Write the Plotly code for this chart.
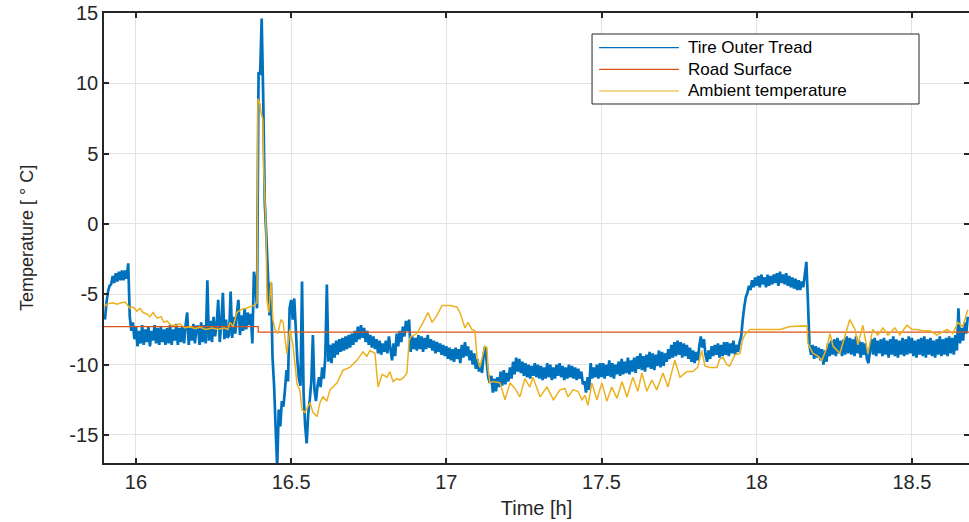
import plotly.graph_objects as go

# ---------------- data ----------------
# Tire outer tread temperature, sampled every 0.005 h from 15.900 h
tire_start = 15.900
tire_step = 0.005
tire_temp = [
    -6.8, -5.6, -4.8, -4.4, -4.3, -3.7, -4.2, -3.5, -4.1, -3.4, -4.0, -3.3, -4.0, -3.3, -3.9, -2.8, -6.6, -7.6, -7.0, -8.2,
    -7.3, -8.7, -7.6, -8.5, -7.2, -8.6, -7.5, -8.4, -7.3, -8.7, -7.6, -8.3, -7.2, -8.5, -7.4, -8.6, -7.3, -8.4, -7.5, -8.6,
    -7.4, -8.5, -7.2, -8.6, -7.5, -8.3, -7.1, -8.6, -7.4, -8.4, -7.3, -8.5, -7.2, -6.3, -8.6, -7.4, -8.3, -7.1, -8.5, -7.3,
    -7.3, -8.6, -7.0, -8.4, -7.2, -8.5, -4.0, -8.3, -6.9, -8.4, -6.6, -8.0, -7.1, -5.4, -8.4, -7.0, -4.9, -8.2, -6.8, -8.1,
    -7.9, -4.8, -8.1, -6.6, -7.8, -6.4, -5.4, -7.9, -6.5, -7.6, -6.0, -7.5, -6.3, -7.2, -6.4, -8.5, -3.4, -4.3, -6.0, 10.8,
    10.6, 14.6, 9.0, 1.5, -0.8, -3.5, -6.5, -4.2, -9.5, -11.5, -14.5, -17.3, -13.2, -14.4, -12.6, -13.0, -11.8, -10.4, -11.2, -6.0,
    -5.4, -6.8, -5.3, -7.5, -9.7, -11.0, -11.5, -4.1, -12.0, -14.3, -15.6, -13.5, -12.5, -11.2, -7.9, -11.8, -12.6, -11.5, -10.9, -11.6,
    -10.2, -11.0, -9.5, -4.3, -9.8, -8.6, -9.9, -8.5, -9.5, -8.3, -9.3, -8.2, -9.1, -8.1, -9.0, -8.0, -8.9, -7.9, -8.8, -7.8,
    -8.6, -7.6, -8.4, -7.3, -8.2, -7.2, -8.1, -7.4, -8.4, -7.6, -8.6, -7.9, -8.8, -8.0, -8.9, -8.2, -9.2, -8.3, -9.3, -8.5,
    -9.1, -8.3, -9.2, -8.0, -8.9, -9.7, -8.5, -9.4, -7.8, -8.7, -7.6, -8.4, -7.3, -8.0, -6.9, -7.6, -6.8, -9.1, -8.0, -8.9,
    -8.1, -9.0, -7.9, -8.9, -8.0, -9.1, -8.1, -8.9, -7.9, -8.8, -8.2, -9.0, -8.3, -9.2, -8.4, -9.1, -8.5, -9.3, -8.6, -9.4,
    -8.7, -9.6, -8.8, -9.7, -8.9, -9.8, -8.8, -9.6, -8.9, -9.9, -8.6, -9.5, -8.4, -9.4, -8.7, -9.7, -9.0, -10.0, -9.2, -10.3,
    -9.6, -10.5, -9.9, -10.6, -9.3, -8.7, -9.8, -10.9, -11.3, -10.8, -12.0, -11.0, -11.9, -10.9, -11.6, -10.5, -11.5, -10.4, -11.4, -10.6,
    -11.2, -10.2, -11.0, -9.8, -10.7, -9.5, -10.5, -9.6, -10.6, -9.8, -10.8, -9.9, -10.9, -10.0, -11.0, -10.1, -10.8, -9.9, -10.9, -10.0,
    -11.0, -10.1, -11.1, -10.2, -11.0, -9.9, -10.9, -10.0, -11.1, -10.2, -11.0, -10.0, -10.8, -9.9, -10.9, -10.1, -11.1, -10.2, -11.0, -10.0,
    -10.9, -10.1, -11.0, -10.2, -11.1, -10.3, -11.0, -10.5, -11.4, -11.2, -12.0, -10.9, -11.8, -9.9, -11.0, -10.2, -10.9, -10.0, -11.0, -9.9,
    -10.9, -9.9, -11.0, -10.0, -10.8, -9.7, -10.9, -9.9, -11.0, -10.0, -10.7, -9.8, -10.8, -9.6, -10.7, -9.8, -10.6, -9.5, -10.7, -9.7,
    -10.5, -9.5, -10.6, -9.4, -10.3, -9.2, -10.4, -9.4, -10.5, -9.3, -10.2, -9.1, -10.3, -9.2, -10.4, -9.3, -10.1, -9.0, -10.2, -9.1,
    -10.1, -9.2, -9.8, -8.9, -9.6, -8.6, -9.5, -8.4, -9.4, -8.3, -9.3, -8.4, -9.5, -8.5, -9.4, -8.6, -9.6, -8.8, -9.8, -9.0,
    -9.9, -9.1, -9.7, -8.7, -8.0, -8.8, -8.2, -9.3, -9.8, -9.0, -9.6, -8.7, -9.4, -8.6, -9.3, -8.5, -9.5, -8.6, -9.4, -8.4,
    -9.3, -8.4, -9.4, -8.5, -9.2, -8.3, -9.3, -8.6, -9.1, -8.4, -8.0, -6.8, -5.9, -5.2, -4.9, -4.4, -4.7, -4.0, -4.5, -3.8,
    -4.4, -3.7, -4.5, -3.6, -4.3, -3.8, -4.5, -3.6, -4.4, -3.7, -4.3, -3.6, -4.2, -3.5, -4.4, -3.4, -4.2, -3.6, -4.3, -3.5,
    -4.4, -3.7, -4.5, -3.8, -4.6, -3.9, -4.7, -4.0, -4.7, -4.1, -4.5, -3.6, -2.7, -5.5, -8.6, -9.3, -8.6, -9.6, -8.7, -9.5,
    -8.8, -9.7, -8.9, -10.0, -9.0, -9.8, -8.5, -9.4, -8.3, -9.3, -8.2, -9.4, -8.1, -9.2, -8.3, -9.4, -8.2, -9.3, -8.0, -9.2,
    -8.1, -9.3, -8.2, -9.4, -8.0, -9.2, -8.3, -9.5, -8.4, -9.3, -8.5, -9.6, -9.9, -9.0, -8.2, -9.3, -8.1, -9.4, -8.3, -9.2,
    -8.2, -9.4, -8.1, -9.3, -8.3, -9.5, -8.2, -9.3, -8.0, -9.4, -8.2, -9.5, -8.3, -9.3, -8.1, -9.4, -8.2, -9.3, -8.0, -9.2,
    -8.1, -9.4, -8.3, -9.5, -8.2, -9.3, -8.1, -9.4, -8.0, -9.5, -8.2, -9.3, -8.1, -9.4, -8.3, -9.5, -8.2, -9.3, -8.0, -9.4,
    -8.2, -9.3, -8.1, -9.4, -8.0, -9.2, -8.1, -9.3, -7.9, -9.0, -6.0, -8.5, -7.4, -8.3, -7.0, -7.8, -6.6,
]
tire_time = [round(tire_start + tire_step * i, 3) for i in range(len(tire_temp))]

# Road surface temperature (step change)
road_time = [15.897, 16.394, 18.684]
road_temp = [-7.3, -7.7, -7.7]

# Ambient temperature
amb_time = [
    15.897, 15.907, 15.923, 15.939, 15.952, 15.965, 15.974, 15.981, 15.990, 16.003,
    16.013, 16.023, 16.035, 16.045, 16.055, 16.068, 16.081, 16.090, 16.100, 16.113,
    16.132, 16.142, 16.158, 16.174, 16.190, 16.206, 16.226, 16.245, 16.264, 16.284,
    16.296, 16.303, 16.313, 16.325, 16.338, 16.354, 16.367, 16.380, 16.390, 16.393,
    16.400, 16.403, 16.409, 16.412, 16.419, 16.422, 16.428, 16.435, 16.441, 16.448,
    16.457, 16.467, 16.474, 16.486, 16.496, 16.506, 16.519, 16.528, 16.535, 16.544,
    16.561, 16.570, 16.583, 16.593, 16.602, 16.615, 16.625, 16.648, 16.667, 16.689,
    16.712, 16.731, 16.744, 16.754, 16.770, 16.780, 16.793, 16.809, 16.818, 16.828,
    16.841, 16.850, 16.863, 16.873, 16.880, 16.886, 16.905, 16.925, 16.941, 16.954,
    16.970, 16.986, 17.012, 17.034, 17.044, 17.060, 17.070, 17.082, 17.092, 17.099,
    17.108, 17.124, 17.131, 17.134, 17.140, 17.150, 17.173, 17.189, 17.205, 17.221,
    17.237, 17.253, 17.269, 17.279, 17.302, 17.324, 17.345, 17.366, 17.382, 17.392,
    17.408, 17.424, 17.437, 17.447, 17.456, 17.469, 17.485, 17.501, 17.517, 17.533,
    17.550, 17.566, 17.582, 17.601, 17.617, 17.630, 17.646, 17.662, 17.678, 17.698,
    17.714, 17.736, 17.753, 17.775, 17.794, 17.810, 17.823, 17.833, 17.849, 17.872,
    17.881, 17.891, 17.904, 17.913, 17.930, 17.946, 17.955, 17.964, 17.978, 18.020,
    18.075, 18.107, 18.162, 18.165, 18.181, 18.197, 18.210, 18.226, 18.236, 18.246,
    18.268, 18.300, 18.317, 18.326, 18.342, 18.358, 18.374, 18.390, 18.407, 18.423,
    18.445, 18.461, 18.484, 18.500, 18.516, 18.535, 18.558, 18.581, 18.613, 18.632,
    18.648, 18.664, 18.680,
]
amb_temp = [
    -5.9, -5.7, -5.6, -5.7, -5.6, -5.55, -5.8, -6.0, -5.9, -6.2,
    -6.0, -6.3, -6.4, -6.6, -6.3, -6.7, -6.6, -7.0, -6.9, -7.2,
    -7.2, -7.1, -7.4, -7.3, -7.45, -7.35, -7.5, -7.4, -7.5, -7.4,
    -7.5, -7.0, -7.3, -6.3, -6.1, -6.0, -5.9, -5.8, -5.6, 8.9,
    8.5, 7.9, 7.4, 3.6, -0.2, -5.4, -6.3, -4.1, -6.8, -7.5,
    -7.8, -6.8, -7.0, -9.2, -7.5, -8.6, -11.4, -11.8, -13.2, -13.4,
    -12.7, -13.4, -13.7, -12.7, -12.3, -12.6, -11.8, -11.3, -10.4, -10.2,
    -9.7, -9.1, -9.4, -9.0, -9.2, -11.6, -10.7, -10.9, -10.5, -11.2,
    -11.0, -11.1, -10.9, -10.6, -8.3, -8.0, -7.8, -7.0, -6.3, -7.0,
    -6.5, -5.8, -5.8, -5.9, -6.3, -7.4, -7.0, -7.5, -7.6, -9.5,
    -10.2, -8.7, -8.8, -10.2, -11.3, -11.2, -11.3, -12.5, -11.3, -11.7,
    -12.3, -11.0, -11.6, -10.9, -12.3, -11.6, -12.5, -11.8, -11.7, -12.3,
    -11.8, -11.9, -12.5, -12.2, -12.9, -11.3, -12.5, -11.3, -12.6, -11.6,
    -12.4, -11.2, -12.3, -10.9, -11.9, -10.6, -11.9, -11.1, -11.8, -10.6,
    -11.6, -9.7, -10.9, -10.5, -10.5, -10.2, -9.0, -10.1, -10.2, -10.2,
    -9.6, -9.5, -10.0, -10.1, -9.3, -9.2, -8.2, -7.8, -7.5, -7.5,
    -7.5, -7.3, -7.25, -8.5, -9.2, -9.4, -9.7, -8.8, -7.8, -8.7,
    -9.2, -6.8, -7.5, -8.6, -7.2, -9.2, -7.5, -7.9, -7.4, -7.9,
    -7.4, -7.9, -7.2, -7.5, -7.5, -7.6, -7.6, -7.9, -7.5, -7.8,
    -7.0, -7.3, -6.1,
]

series_names = ["Tire Outer Tread", "Road Surface", "Ambient temperature"]
series_colors = ["#0072BD", "#D95319", "#EDB120"]

x_range = [15.897, 18.684]
y_range = [-17, 15]
x_ticks = [16, 16.5, 17, 17.5, 18, 18.5]
x_tick_labels = ["16", "16.5", "17", "17.5", "18", "18.5"]
y_ticks = [-15, -10, -5, 0, 5, 10, 15]
y_tick_labels = ["-15", "-10", "-5", "0", "5", "10", "15"]

FONT = "Liberation Sans, Arial, Helvetica, sans-serif"
AXIS_COLOR = "#262626"

fig = go.Figure()
fig.add_trace(go.Scatter(x=tire_time, y=tire_temp, mode="lines", name=series_names[0],
                         line=dict(color=series_colors[0], width=2.7, simplify=False)))
fig.add_trace(go.Scatter(x=road_time, y=road_temp, mode="lines", name=series_names[1],
                         line=dict(color=series_colors[1], width=1.3, shape="hv")))
fig.add_trace(go.Scatter(x=amb_time, y=amb_temp, mode="lines", name=series_names[2],
                         line=dict(color=series_colors[2], width=1.5, simplify=False)))

axis_common = dict(
    showline=True, linecolor=AXIS_COLOR, linewidth=1.5, mirror="ticks",
    ticks="inside", ticklen=5, tickwidth=1.5, tickcolor=AXIS_COLOR,
    showgrid=True, gridcolor="#e3e3e3", gridwidth=1, zeroline=False,
    tickfont=dict(family=FONT, size=20, color=AXIS_COLOR),
)

fig.update_xaxes(range=x_range, tickvals=x_ticks, ticktext=x_tick_labels,
                 title=dict(text="Time [h]", font=dict(family=FONT, size=20, color=AXIS_COLOR), standoff=9),
                 automargin=False, **axis_common)
fig.update_yaxes(range=y_range, tickvals=y_ticks, ticktext=y_tick_labels,
                 title=dict(text="Temperature [ ° C]", font=dict(family=FONT, size=18, color=AXIS_COLOR), standoff=31),
                 automargin=False, **axis_common)

# Legend box drawn in paper coordinates (MATLAB-style: thin sample lines, framed box)
legend_box = dict(x0=0.5642, x1=0.9422, y0=0.7978, y1=0.9533)
legend_rows_y = [0.9229, 0.8749, 0.8267]
legend_line_x = (0.5723, 0.6647)
legend_text_x = 0.6728

shapes = [dict(type="rect", xref="paper", yref="paper", layer="above",
               x0=legend_box["x0"], x1=legend_box["x1"], y0=legend_box["y0"], y1=legend_box["y1"],
               line=dict(color=AXIS_COLOR, width=1), fillcolor="white")]
annotations = []
for name, color, ry in zip(series_names, series_colors, legend_rows_y):
    shapes.append(dict(type="line", xref="paper", yref="paper", layer="above",
                       x0=legend_line_x[0], x1=legend_line_x[1], y0=ry, y1=ry,
                       line=dict(color=color, width=1.2)))
    annotations.append(dict(text=name, xref="paper", yref="paper", x=legend_text_x, y=ry,
                            xanchor="left", yanchor="middle", showarrow=False,
                            font=dict(family=FONT, size=17, color="#000000")))

fig.update_layout(
    width=969, height=522,
    margin=dict(l=104, r=0, t=13, b=59, pad=0),
    paper_bgcolor="white", plot_bgcolor="white",
    font=dict(family=FONT, color=AXIS_COLOR),
    showlegend=False,
    shapes=shapes, annotations=annotations,
)

fig.write_html("out.html", config={"displayModeBar": False},
               post_script="document.body.style.margin='0';")
